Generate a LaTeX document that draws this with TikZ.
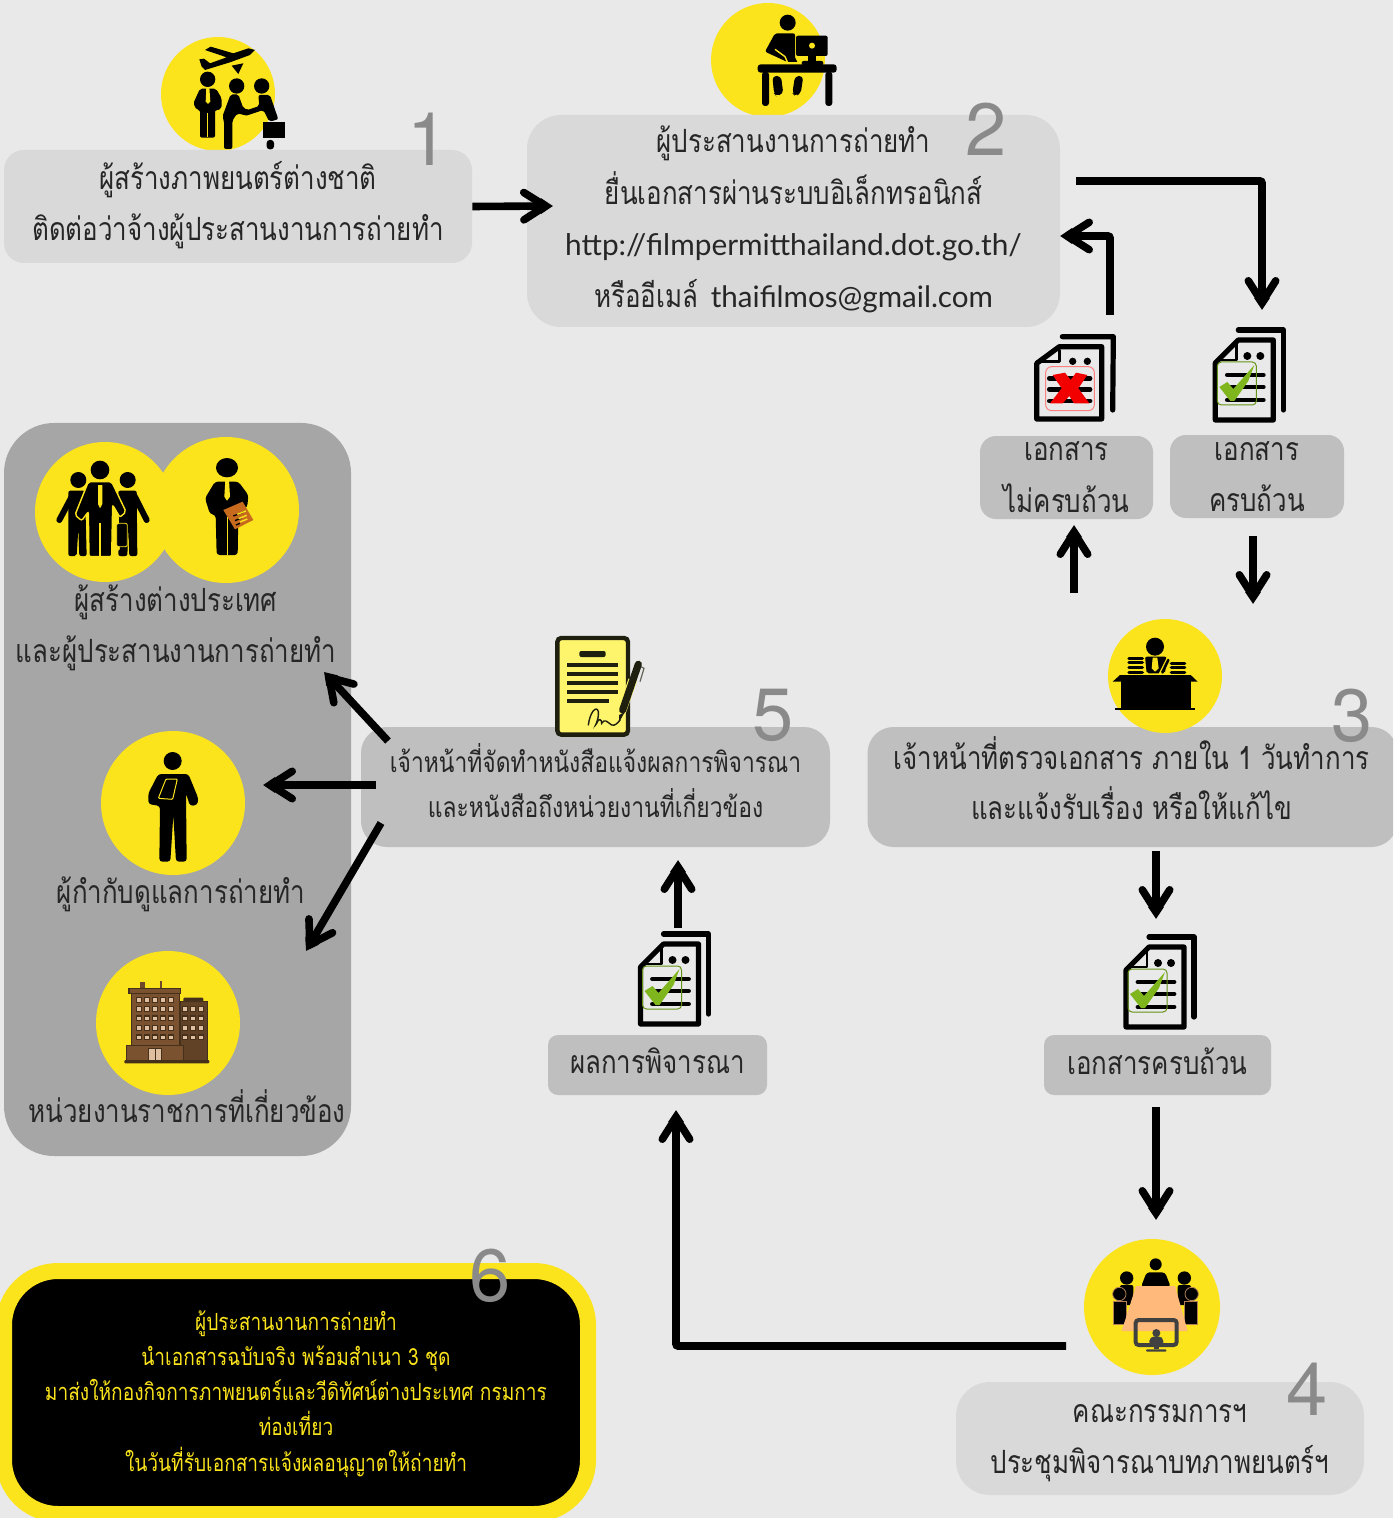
\documentclass[tikz,border=0pt]{standalone}
\usepackage{fontspec}
\setmainfont[Script=Thai,FakeStretch=0.81]{Loma}
\newfontfamily\latf{Lato}
\newfontfamily\numf{TeX Gyre Heros}
\usetikzlibrary{arrows.meta}
\definecolor{bgc}{HTML}{E9E9E9}
\definecolor{yel}{HTML}{FBE41C}
\definecolor{lite}{HTML}{D9D9D9}
\definecolor{mid}{HTML}{BFBFBF}
\definecolor{pan}{HTML}{A6A6A6}
\definecolor{numc}{HTML}{8A8A8A}
\definecolor{brn}{HTML}{7A5230}
\definecolor{brd}{HTML}{45301C}
\definecolor{grn}{HTML}{7FB61E}
\definecolor{tabl}{HTML}{FFB97A}
\definecolor{inkc}{HTML}{1F1F10}
\definecolor{lett}{HTML}{FFF56D}
\definecolor{fold}{HTML}{C86A1E}
\tikzset{
 box/.style={rectangle,rounded corners=#1,inner sep=0pt},
 box/.default=10pt,
 yc/.style={circle,fill=yel,inner sep=0pt},
 num/.style={font=\numf\fontsize{37}{37}\selectfont,text=numc,inner sep=0pt},
 arr/.style={draw=black,line width=3.8pt,rounded corners=1pt,-{Straight Barb[length=10.8pt,width=13.7pt,line width=3.8pt,round,sep=-4.1pt]Triangle[length=6pt,width=7.5pt]}},
 txa/.style={font=\fontsize{16}{25.8}\selectfont,align=center,inner sep=0pt,text=black!85},
 txh/.style={font=\fontsize{16}{25}\selectfont,align=center,inner sep=0pt,text=black!85},
 txb/.style={font=\fontsize{14.1}{22.5}\selectfont,align=center,inner sep=0pt,text=black!85},
 txc/.style={font=\fontsize{11.8}{17.6}\selectfont,align=center,inner sep=0pt,text=yel},
 stk/.style={draw=black,line cap=round,line join=round},
}
\newcommand\docicon[2]{%
 \begin{scope}[shift={(#1,#2)}]
  \draw[stk,line width=2.6pt] (25,2)--(70,2)--(70,82);
  \draw[stk,line width=2.6pt,fill=bgc] (2,35)--(25,12)--(60,12)--(60,92)--(2,92)--cycle;
  \draw[stk,line width=1.2pt] (8,32)--(23,32)--(23,16);
  \fill (34,28) circle (4) (47,28) circle (4);
  \draw[stk,line width=2.4pt] (14,47)--(50,47) (14,59)--(50,59) (14,72)--(50,72);
  \draw[grn!80!black,line width=.5pt,rounded corners=2pt] (4,34) rectangle (43,77);
  \fill[grn] (6,59)--(14,54)--(20,61)--(41,37)--(35,53)--(21,73)--(17,73)--cycle;
 \end{scope}}
\begin{document}
\begin{tikzpicture}[x=0.5pt,y=-0.5pt]
\useasboundingbox (0,0) rectangle (1393,1518);
\fill[bgc] (0,0) rectangle (1393,1518);
\begin{scope}
\clip (0,0) rectangle (1393,1518);

% ---- step 1 icon
\node[yc,minimum size=57pt] (c1) at (218,94) {};
\begin{scope}[scale=1/3]
 \fill (598,178)--(612,176)--(630,190)--(680,172)--(615,150)--(632,140)--(700,160)--(745,145)--(765,150)--(750,165)--(690,187)--(615,210)--(605,200)--cycle;
 \fill (695,197)--(730,190)--(715,222)--cycle;
 \fill (623,238) circle (23);
 \fill[rounded corners=1pt] (600,266)--(648,266)--(665,295)--(665,325)--(650,332)--(645,330)--(645,413)--(600,413)--(600,330)--(590,330)--(580,310)--cycle;
 \fill[yel] (619,262)--(628,262)--(631,305)--(624,312)--(617,305)--cycle;
 \draw[yel,line width=.6pt] (622,340)--(622,412);
 \fill (710,258) circle (23);
 \fill[rounded corners=1pt] (692,283)--(715,283)--(730,325)--(760,332)--(745,348)--(712,340)--(697,362)--(697,447)--(672,447)--(672,362)--(667,350)--cycle;
 \fill (785,258) circle (23);
 \fill[rounded corners=1pt] (775,285)--(810,285)--(835,358)--(808,365)--(790,330)--(745,345)--(742,330)--(778,318)--cycle;
 \fill (788,367) rectangle (855,415);
 \fill[rounded corners=1.5pt] (800,420) rectangle (822,448);
\end{scope}

% ---- step 2 icon
\node[yc,minimum size=57pt] (c2) at (768,60) {};
\begin{scope}[shift={(700,0)},scale=1/3]
 \fill (263,68) circle (24);
 \fill[rounded corners=1pt] (225,100)--(285,100)--(285,178)--(295,186)--(262,186)--(195,155)--cycle;
 \draw[yel,line width=.7pt] (225,148)--(255,170)--(262,186);
 \fill[rounded corners=1pt] (288,107) rectangle (383,168);
 \fill[yel] (336,137) circle (9);
 \fill (325,168) rectangle (347,185);
 \fill[rounded corners=1pt] (305,183) rectangle (370,196);
 \fill[rounded corners=1.5pt] (173,193) rectangle (410,218);
 \fill[rounded corners=1.5pt] (186,215) rectangle (207,318);
 \fill[rounded corners=1.5pt] (376,215) rectangle (397,318);
 \fill[rounded corners=2pt] (217,228)--(243,228)--(250,282)--(228,288)--(222,280)--cycle;
 \fill[rounded corners=2pt] (285,228)--(310,228)--(302,282)--(285,288)--(277,280)--cycle;
\end{scope}

% ---- panel
\node[box=25pt,fill=pan,minimum width=173.5pt,minimum height=366.5pt] (panel) at (177.5,789.5) {};

% ---- boxes
\node[box=10pt,fill=lite,minimum width=234pt,minimum height=56.5pt] (b1) at (238,206.5) {};
\node[box=17pt,fill=lite,minimum width=266.5pt,minimum height=106pt] (b2) at (793.5,221) {};
\node[box=8pt,fill=mid,minimum width=86.5pt,minimum height=41.5pt] (dno) at (1066.5,477.5) {};
\node[box=8pt,fill=mid,minimum width=87pt,minimum height=41.5pt] (dok) at (1257,476.5) {};
\node[box=13pt,fill=mid,minimum width=265pt,minimum height=60pt] (b3) at (1132.5,787) {};
\node[box=13pt,fill=mid,minimum width=234.5pt,minimum height=60pt] (b5) at (595.5,787) {};
\node[box=5pt,fill=mid,minimum width=113.5pt,minimum height=30pt] (dall) at (1157.5,1065) {};
\node[box=5pt,fill=mid,minimum width=109.5pt,minimum height=30pt] (res) at (657.5,1065) {};
\node[box=17pt,fill=lite,minimum width=204pt,minimum height=56.5pt] (b4) at (1160,1438.5) {};
\node[box=27pt,fill=black,draw=yel,line width=8pt,minimum width=292pt,minimum height=121.5pt] (b6) at (296,1392.5) {};

% ---- box texts
\node[txa] (t1) at (238,205) {ผู้สร้างภาพยนตร์ต่างชาติ\\ติดต่อว่าจ้างผู้ประสานงานการถ่ายทำ};
\node[txa] (t2) at (793.5,219.5) {ผู้ประสานงานการถ่ายทำ\\ยื่นเอกสารผ่านระบบอิเล็กทรอนิกส์\\{\latf\fontsize{14.9}{25.8}\selectfont http://filmpermitthailand.dot.go.th/}\\หรืออีเมล์\hspace{2pt} {\latf\fontsize{14.8}{25.8}\selectfont thaifilmos@gmail.com}};
\node[txa] (tno) at (1066.5,477) {เอกสาร\\ไม่ครบถ้วน};
\node[txa] (tok) at (1257,476.5) {เอกสาร\\ครบถ้วน};
\node[txh] (t3) at (1131.5,778) {เจ้าหน้าที่ตรวจเอกสาร ภายใน 1 วันทำการ\\และแจ้งรับเรื่อง หรือให้แก้ไข};
\node[txb] (t5) at (595.5,780.5) {เจ้าหน้าที่จัดทำหนังสือแจ้งผลการพิจารณา\\และหนังสือถึงหน่วยงานที่เกี่ยวข้อง};
\node[txa] (tall) at (1157.5,1061) {เอกสารครบถ้วน};
\node[txa] (tres) at (657.5,1061) {ผลการพิจารณา};
\node[txa] (t4) at (1160,1443) {คณะกรรมการฯ\\ประชุมพิจารณาบทภาพยนตร์ฯ};
\node[txc] (t6) at (296,1394) {ผู้ประสานงานการถ่ายทำ\\นำเอกสารฉบับจริง พร้อมสำเนา 3 ชุด\\มาส่งให้กองกิจการภาพยนตร์และวีดิทัศน์ต่างประเทศ กรมการ\\ท่องเที่ยว\\ในวันที่รับเอกสารแจ้งผลอนุญาตให้ถ่ายทำ};

% ---- step 3 icon
\node[yc,minimum size=57pt] (c3) at (1165,676) {};
\begin{scope}[shift={(1100,615)},scale=1/3]
 \fill (165,95) circle (27);
 \fill[rounded corners=1pt] (135,125)--(200,125)--(195,175)--(140,175)--cycle;
 \fill[yel] (158,128)--(172,128)--(176,160)--(165,170)--(155,160)--cycle;
 \draw[yel,line width=1.5pt] (205,128)--(180,178);
 \draw[line width=1.3pt,line cap=round] (205,135)--(187,172);
 \foreach \yy in {130,143,157,172} \draw[line width=1.7pt,line cap=round] (87,\yy)--(127,\yy);
 \foreach \yy in {145,158,172} \draw[line width=1.7pt,line cap=round] (214,\yy)--(254,\yy);
 \fill (38,200)--(60,180)--(272,180)--(293,200)--cycle;
 \fill (62,195) rectangle (272,280);
 \fill (45,278) rectangle (285,285);
\end{scope}

% ---- step 4 icon
\node[yc,minimum size=68pt] (c4) at (1152,1307) {};
\begin{scope}[shift={(1080,1235)},scale=1/3]
 \fill (227,88) circle (18);
 \fill[rounded corners=1.5pt] (183,155)--(200,112)--(255,112)--(272,155)--cycle;
 \foreach \xa/\xb/\xc/\xd in {140/120/160/118,313/293/333/335}{
  \fill (\xa,129) circle (20);
  \fill[rounded corners=1pt] (\xb,150) rectangle (\xc,210);
  \filldraw[draw=tabl!70!black,line width=.4pt] (\xd,177) circle (20);
 }
 \filldraw[draw=tabl!70!black,line width=.4pt] (100,200) rectangle (140,268);
 \filldraw[draw=tabl!70!black,line width=.4pt] (313,200) rectangle (353,268);
 \fill[tabl] (168,153)--(285,153)--(323,288)--(125,288)--cycle;
 \draw[black!75,line width=2pt,rounded corners=1.5pt] (167,255) rectangle (290,330);
 \fill[black!75] (229,294) circle (12);
 \fill[black!75,rounded corners=1pt] (208,327)--(208,312)--(218,304)--(240,304)--(250,312)--(250,327)--cycle;
 \fill[black!75] (222,330) rectangle (236,343);
 \fill[black!75,rounded corners=.5pt] (198,343) rectangle (259,350);
\end{scope}

% ---- documents
\docicon{1213.3}{328}
\docicon{1124}{935}
\docicon{638.5}{932}
\begin{scope}[shift={(1000,320)},scale=1/3]
 \draw[stk,line width=2.6pt] (187,50)--(340,50)--(338,270);
 \draw[stk,line width=2.6pt,fill=bgc] (110,130)--(178,80)--(305,80)--(305,297)--(110,297)--cycle;
 \draw[stk,line width=1.2pt] (120,125)--(178,125)--(178,90);
 \fill (218,124) circle (11) (262,124) circle (11);
 \draw[stk,line width=2.4pt] (148,175)--(270,175) (148,208)--(270,208) (148,243)--(270,243);
 \draw[red!50,line width=.5pt,rounded corners=3pt] (137,140) rectangle (283,272);
 \fill[red!95!black] (158,165)--(195,158)--(212,180)--(228,158)--(262,165)--(235,205)--(268,250)--(222,250)--(208,228)--(188,250)--(150,250)--(185,205)--cycle;
\end{scope}

% ---- signed letter
\begin{scope}[shift={(540,630)},scale=1/3]
 \draw[line width=2.2pt,draw=inkc,fill=lett,rounded corners=2pt] (52,24) rectangle (264,314);
 \fill[inkc,rounded corners=1pt] (118,63) rectangle (197,81);
 \foreach \yy in {106,133,160,187} \draw[inkc,line width=1.9pt] (82,\yy)--(235,\yy);
 \draw[inkc,line width=1.9pt] (82,214)--(208,214);
 \draw[inkc,line width=.7pt,line cap=round] (145,285) .. controls (150,245) and (170,225) .. (175,245) .. controls (178,270) and (160,295) .. (170,280) .. controls (175,265) and (185,265) .. (185,280) .. controls (195,265) and (200,275) .. (215,285) .. controls (225,288) and (232,280) .. (240,270);
 \draw[lett,line width=4.4pt] (278,150)--(245,245);
 \draw[inkc,line width=3.6pt,line cap=round] (295,103)--(248,240);
 \fill[inkc] (237,255)--(254,247)--(237,277)--cycle;
 \draw[inkc!70,line width=.6pt] (303,110)--(312,115)--(300,155);
\end{scope}

% ---- panel icons
\node[yc,minimum size=70pt] (c5) at (105,512) {};
\node[yc,minimum size=73pt] (c6) at (226,510) {};
\begin{scope}[shift={(20,430)},scale=1/3]
 \fill (175,150) circle (24);
 \draw[line width=3pt,line cap=round] (158,195)--(118,270);
 \fill[rounded corners=1pt] (145,182)--(195,182)--(200,378)--(178,378)--(175,295)--(170,378)--(145,378)--cycle;
 \fill (323,150) circle (24);
 \draw[line width=3pt,line cap=round] (342,195)--(380,270);
 \fill[rounded corners=1pt] (295,182)--(350,182)--(352,378)--(328,378)--(325,295)--(322,378)--(300,378)--cycle;
 \fill (240,120) circle (28);
 \fill[draw=yel,line width=.7pt,rounded corners=1pt] (205,155)--(275,155)--(318,245)--(300,262)--(278,225)--(275,380)--(207,380)--(205,245)--(185,272)--(165,255)--cycle;
 \fill[yel] (234,165)--(247,165)--(247,222)--(240,235)--(234,222)--cycle;
 \draw[yel,line width=.7pt] (240,280)--(240,380);
 \fill[draw=yel,line width=.4pt,rounded corners=1pt] (290,280) rectangle (322,350);
 \fill[rounded corners=1pt] (295,358) rectangle (318,378);
 % person with folder
 \fill (621,113) ellipse [x radius=33,y radius=29];
 \fill[rounded corners=1.5pt] (585,155)--(655,155)--(685,195)--(682,230)--(655,255)--(653,375)--(590,375)--(587,255)--(570,252)--(555,205)--cycle;
 \fill[yel] (616,150)--(627,150)--(630,200)--(621,212)--(613,200)--cycle;
 \draw[yel,line width=.5pt] (621,260)--(621,375);
 \fill[fold] (610,240)--(668,215)--(700,270)--(645,298)--cycle;
 \draw[line width=.7pt] (640,258)--(672,246) (645,272)--(664,264) (648,285)--(660,280);
 \draw[yel,line width=.7pt] (652,253)--(678,243) (656,266)--(680,256) (660,276)--(682,267);
\end{scope}
\node[yc,minimum size=72pt] (c7) at (173,803) {};
\node[yc,minimum size=72pt] (c8) at (168,1023) {};
\begin{scope}[shift={(90,730)},scale=1/3]
 \fill (248,93) circle (27);
 \fill[rounded corners=1.5pt] (205,132)--(295,132)--(325,205)--(322,225)--(300,228)--(288,190)--(290,395)--(258,395)--(250,255)--(241,395)--(208,395)--(210,228)--(175,222)--(175,190)--cycle;
 \fill[black,draw=yel,line width=.5pt,rounded corners=.5pt] (228,147)--(262,147)--(248,208)--(205,205)--(218,172)--cycle;
 % building
 \fill[brn!90!black] (150,755) rectangle (165,775);
 \fill[brn!90!black] (210,752) rectangle (216,775);
 \fill[brd] (178,775) arc (180:0:9) --cycle;
 \filldraw[fill=brn!80!black,draw=brd,line width=.5pt] (270,815) rectangle (352,992);
 \fill[brd,rounded corners=.5pt] (280,803) rectangle (340,815);
 \filldraw[fill=brn,draw=brd,line width=.5pt] (125,790) rectangle (268,945);
 \filldraw[fill=brn,draw=brd,line width=.8pt] (117,775) rectangle (272,790);
 \filldraw[fill=brn,draw=brd,line width=.5pt] (110,945) rectangle (280,992);
 \foreach \xx in {147,171,195,219,243} \foreach \yy in {810,837,865,894,922}
   \filldraw[fill=brown!50!white,draw=brd,line width=.6pt] (\xx-7,\yy-7) rectangle (\xx+7,\yy+7);
 \foreach \xx in {285,309,333} \foreach \yy in {837,865,894,922}
   \filldraw[fill=brown!50!white,draw=brd,line width=.6pt] (\xx-7,\yy-7) rectangle (\xx+7,\yy+7);
 \filldraw[fill=brown!50!white,draw=brd,line width=.6pt] (175,955) rectangle (215,992);
 \draw[brd,line width=.5pt] (195,955)--(195,992);
 \fill[brd,rounded corners=.5pt] (103,990) rectangle (358,1000);
\end{scope}

% ---- panel texts
\node[txa] (t5a) at (176,628) {ผู้สร้างต่างประเทศ\\และผู้ประสานงานการถ่ายทำ};
\node[txa] (t7) at (181,894) {ผู้กำกับดูแลการถ่ายทำ};
\node[txa] (t8) at (187,1106) {หน่วยงานราชการที่เกี่ยวข้อง};

% ---- numbers
\node[num] (n1) at (428,139) {1};
\node[num] (n2) at (986,129) {2};
\node[num] (n3) at (1352,716) {3};
\node[num] (n4) at (1307,1389) {4};
\node[num] (n5) at (773,715) {5};
\node[num] (n6) at (490,1276) {6};

% ---- connector ends
\coordinate (a1) at (553,206);
\coordinate (a2s) at (1076,181);
\coordinate (a2m) at (1262,181);
\coordinate (a2e) at (1262,310);
\coordinate (a3s) at (1110,315);
\coordinate (a3m) at (1110,236);
\coordinate (a3e) at (1060,236);
\coordinate (a4s) at (1074,593);
\coordinate (a4e) at (1074,525);
\coordinate (a5s) at (1253,536);
\coordinate (a5e) at (1253,604);
\coordinate (a6s) at (1156,851);
\coordinate (a6e) at (1156,919);
\coordinate (a7s) at (1156,1107);
\coordinate (a7e) at (1156,1220);
\coordinate (a8s) at (1066,1346);
\coordinate (a8m) at (676,1346);
\coordinate (a8e) at (676,1110);
\coordinate (a9s) at (678,928);
\coordinate (a9e) at (678,860);
\coordinate (a10s) at (388,741);
\coordinate (a10e) at (324,672);
\coordinate (a11s) at (376,785);
\coordinate (a11e) at (263,785);
\coordinate (a12s) at (381,823);
\coordinate (a12e) at (306,951);

\draw[arr] (b1.east) -- (a1);
\draw[arr] (a2s) -- (a2m) -- (a2e);
\draw[arr] (a3s) -- (a3m) -- (a3e);
\draw[arr] (a4s) -- (a4e);
\draw[arr] (a5s) -- (a5e);
\draw[arr] (a6s) -- (a6e);
\draw[arr] (a7s) -- (a7e);
\draw[arr] (a8s) -- (a8m) -- (a8e);
\draw[arr] (a9s) -- (a9e);
\draw[arr] (a10s) -- (a10e);
\draw[arr] (a11s) -- (a11e);
\draw[arr] (a12s) -- (a12e);
\end{scope}
\end{tikzpicture}
\end{document}
